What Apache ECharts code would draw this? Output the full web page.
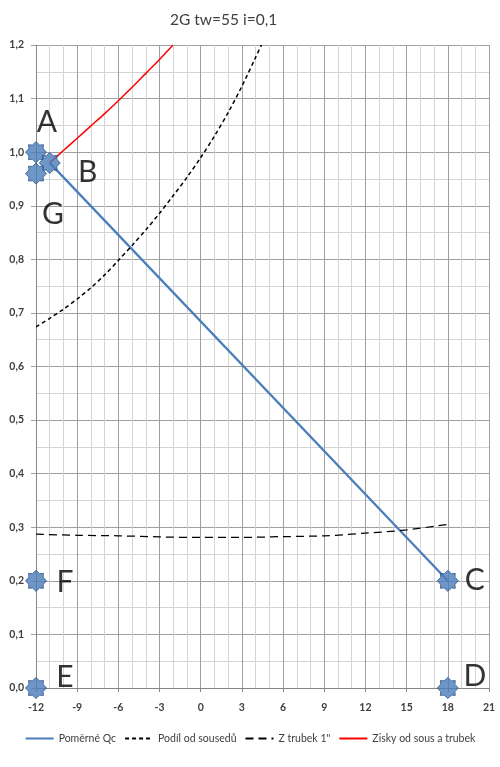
<!DOCTYPE html>
<html>
<head>
<meta charset="utf-8">
<script src="https://cdn.jsdelivr.net/npm/echarts@6/dist/echarts.min.js"></script>
<style>
  html, body { margin: 0; padding: 0; background: #fff; }
  #chart { width: 500px; height: 767px; }
</style>
</head>
<body>
<div id="chart"></div>
<script>
// hodnoty
var titleText = '2G tw=55 i=0,1';
var seriesNames = ['Poměrné Qc', 'Podíl od sousedů', 'Z trubek 1"', 'Zisky od sous a trubek'];

var qcX = [-11, 18];
var qcY = [0.98, 0.2];

var podilX = [-12, -11, -10, -9, -8, -7, -6, -5, -4, -3, -2, -1, 0, 1, 2, 3, 4, 4.42];
var podilY = [0.674, 0.690, 0.707, 0.726, 0.747, 0.771, 0.798, 0.826, 0.855, 0.886, 0.919, 0.953, 0.990, 1.030, 1.074, 1.123, 1.177, 1.2];

var trubekX = [-12, -9, -6, -3, 0, 3, 6, 9, 12, 15, 18];
var trubekY = [0.287, 0.285, 0.284, 0.282, 0.281, 0.281, 0.2825, 0.284, 0.289, 0.295, 0.3055];

var ziskyX = [-11, -10, -9, -8, -7, -6, -5, -4, -3, -2.02];
var ziskyY = [0.98, 1.003, 1.026, 1.049, 1.072, 1.096, 1.121, 1.147, 1.173, 1.2];

var pointNames = ['A', 'B', 'C', 'D', 'E', 'F', 'G'];
var pointX = [-12, -11, 18, 18, -12, -12, -12];
var pointY = [1.0, 0.98, 0.2, 0.0, 0.0, 0.2, 0.96];

// posun popisků bodů vůči značce
var labelShift = {
  A: [11, -30], B: [38, 9], C: [27, -1], D: [27, -12],
  E: [29, -11], F: [29, 1], G: [17, 41]
};

function pairs(xs, ys) {
  return xs.map(function (x, i) { return [x, ys[i]]; });
}

var star8 = 'path://M100 50 L84 67 L85.4 85.4 L67 84 L50 100 L33 84 L14.6 85.4 L16 67 L0 50 L16 33 L14.6 14.6 L33 16 L50 0 L67 16 L85.4 14.6 L84 33 Z';

var font = 'Lato, "Open Sans", sans-serif';

var chart = echarts.init(document.getElementById('chart'));
chart.setOption({
  animation: false,
  textStyle: { fontFamily: font },
  title: {
    text: titleText,
    left: 165,
    top: 7,
    textStyle: { fontSize: 15.5, fontWeight: 'normal', color: '#404040', fontFamily: font }
  },
  legend: {
    data: seriesNames,
    bottom: 18,
    left: 'center',
    itemWidth: 28,
    itemHeight: 10,
    itemGap: 8,
    itemStyle: { opacity: 0 },
    textStyle: { fontSize: 10.5, color: '#404040' }
  },
  grid: { left: 36, right: 11, top: 45, bottom: 79 },
  xAxis: {
    type: 'value',
    min: -12, max: 21, interval: 3,
    axisLine: { onZero: false, lineStyle: { color: '#868686' } },
    axisTick: { show: true, length: 4, lineStyle: { color: '#868686' } },
    axisLabel: { fontSize: 10.5, fontWeight: 'bold', color: '#404040', margin: 14 },
    splitLine: { show: true, lineStyle: { color: '#a0a0a0', width: 1 } },
    minorTick: { show: false, splitNumber: 3 },
    minorSplitLine: { show: true, lineStyle: { color: '#d4d4d4', width: 1 } }
  },
  yAxis: {
    type: 'value',
    min: 0, max: 1.2, interval: 0.1,
    axisLine: { show: true, onZero: false, lineStyle: { color: '#868686' } },
    axisTick: { show: true, length: 5, lineStyle: { color: '#a0a0a0' } },
    axisLabel: {
      fontSize: 10.5, fontWeight: 'bold', color: '#404040', margin: 12,
      formatter: function (v) { return v.toFixed(1).replace('.', ','); }
    },
    splitLine: { show: true, lineStyle: { color: '#a0a0a0', width: 1 } },
    minorTick: { show: false, splitNumber: 2 },
    minorSplitLine: { show: true, lineStyle: { color: '#d4d4d4', width: 1 } }
  },
  series: [
    {
      name: seriesNames[0], type: 'line', data: pairs(qcX, qcY),
      symbol: 'none', z: 3,
      lineStyle: { color: '#4A7EBB', width: 2.25 },
      itemStyle: { color: '#4A7EBB' }
    },
    {
      name: seriesNames[1], type: 'line', data: pairs(podilX, podilY),
      symbol: 'none', smooth: 0.3,
      lineStyle: { color: '#000', width: 1.5, type: [4, 3] },
      itemStyle: { color: '#000' }
    },
    {
      name: seriesNames[2], type: 'line', data: pairs(trubekX, trubekY),
      symbol: 'none', smooth: 0.3,
      lineStyle: { color: '#000', width: 1.25, type: [8, 5] },
      itemStyle: { color: '#000' }
    },
    {
      name: seriesNames[3], type: 'line', data: pairs(ziskyX, ziskyY),
      symbol: 'none', smooth: 0.3,
      lineStyle: { color: '#FF0000', width: 1.5 },
      itemStyle: { color: '#FF0000' }
    },
    {
      name: 'body', type: 'scatter', z: 5,
      symbol: star8, symbolSize: 21,
      itemStyle: { color: '#4A7DBA', borderColor: '#2F5587', borderWidth: 1 },
      label: {
        show: true, position: 'inside', fontSize: 30, color: '#000',
        fontFamily: font, formatter: '{b}'
      },
      data: pointNames.map(function (n, i) {
        return { name: n, value: [pointX[i], pointY[i]], label: { offset: labelShift[n] } };
      })
    }
  ]
});
</script>
</body>
</html>
